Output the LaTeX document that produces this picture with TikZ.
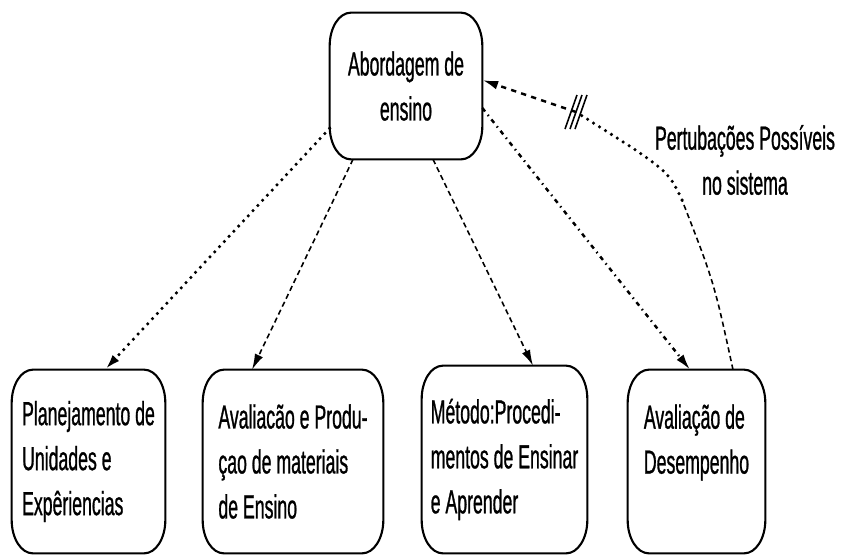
\documentclass[tikz,border=0pt]{standalone}
\usepackage{fontspec}
\setmainfont{Liberation Sans}[FakeStretch=0.53, FakeBold=0.8]
\usepackage{tikz}
\usetikzlibrary{calc}
\usetikzlibrary{positioning}
\usetikzlibrary{arrows.meta}
\tikzset{
  boxNode/.style={%
    inner sep=0pt, align=left,
    font=\fontsize{19pt}{25.6pt}\selectfont,
  },
  boxLine/.style={line width=1.2pt},
  dotLine/.style={line width=2pt, line cap=round, dash pattern=on 0pt off 4pt},
  dashLine/.style={line width=0.9pt, dash pattern=on 3pt off 2pt},
  dashDotLine/.style={line width=1.4pt, dash pattern=on 2.5pt off 2.5pt on 0.8pt off 2.5pt},
  feedLine/.style={line width=1.4pt, dash pattern=on 3pt off 3pt},
  arrowTip/.style={-{Latex[length=9pt,width=5pt]}}
}

\begin{document}
\begin{tikzpicture}[x=0.02cm, y=-0.02cm]
\useasboundingbox (0,0) rectangle (842,556);

% boxes
\node[boxNode, align=center, minimum width=3.04cm, minimum height=2.92cm] (abord) at (406,86) {Abordagem de\\ensino};
\node[boxNode, minimum width=3.06cm, minimum height=3.66cm] (plan) at (88.5,461.5) {Planejamento de\\Unidades e\\Expêriencias};
\node[boxNode, minimum width=3.6cm, minimum height=3.66cm] (aval) at (293,461.5) {Avaliacão e Produ-\\çao de materiais\\de Ensino};
\node[boxNode, minimum width=3.3cm, minimum height=3.74cm] (metodo) at (504.5,459.5) {Método:Procedi-\\mentos de Ensinar\\e Aprender};
\node[boxNode, minimum width=2.74cm, minimum height=3.66cm] (desemp) at (696.5,461.5) {Avaliação de\\Desempenho\\\mbox{}};

\foreach \n in {abord,plan,aval,metodo,desemp}
  \draw[boxLine] ([xshift=12pt]\n.north west) -- ([xshift=-12pt]\n.north east)
    arc[start angle=90, end angle=0, x radius=12pt, y radius=19pt]
    -- ([yshift=19pt]\n.south east)
    arc[start angle=0, end angle=-90, x radius=12pt, y radius=19pt]
    -- ([xshift=12pt]\n.south west)
    arc[start angle=-90, end angle=-180, x radius=12pt, y radius=19pt]
    -- ([yshift=-19pt]\n.north west)
    arc[start angle=180, end angle=90, x radius=12pt, y radius=19pt] -- cycle;

% links
\draw[dotLine, arrowTip] (abord.209) -- ([xshift=0.33cm]plan.north);
\draw[dashLine, arrowTip] ([xshift=-1.06cm]abord.south) -- ([xshift=-0.82cm]aval.north);
\draw[dashLine, arrowTip] ([xshift=0.54cm]abord.south) -- ([xshift=0.57cm]metodo.north);
\draw[dashDotLine, arrowTip] ([yshift=-0.44cm]abord.east) -- ([xshift=-0.13cm]desemp.north);

% feedback
\coordinate (bend) at (682,200);
\coordinate (cut) at (576,112);
\draw[dashLine] ([xshift=0.73cm]desemp.north) .. controls (714,282) .. (bend);
\draw[dotLine] (bend) .. controls (668,170) .. (cut);
\draw[feedLine, arrowTip] (cut) -- ([yshift=0.12cm]abord.east);
\foreach \d in {-5,0,5}
  \draw[line width=0.9pt] ($(cut)+(\d-6,17)$) -- ($(cut)+(\d+6,-17)$);

\node[boxNode, align=center] (pertLbl) at (745,160) {Pertubações Possíveis\\no sistema};

\end{tikzpicture}
\end{document}
